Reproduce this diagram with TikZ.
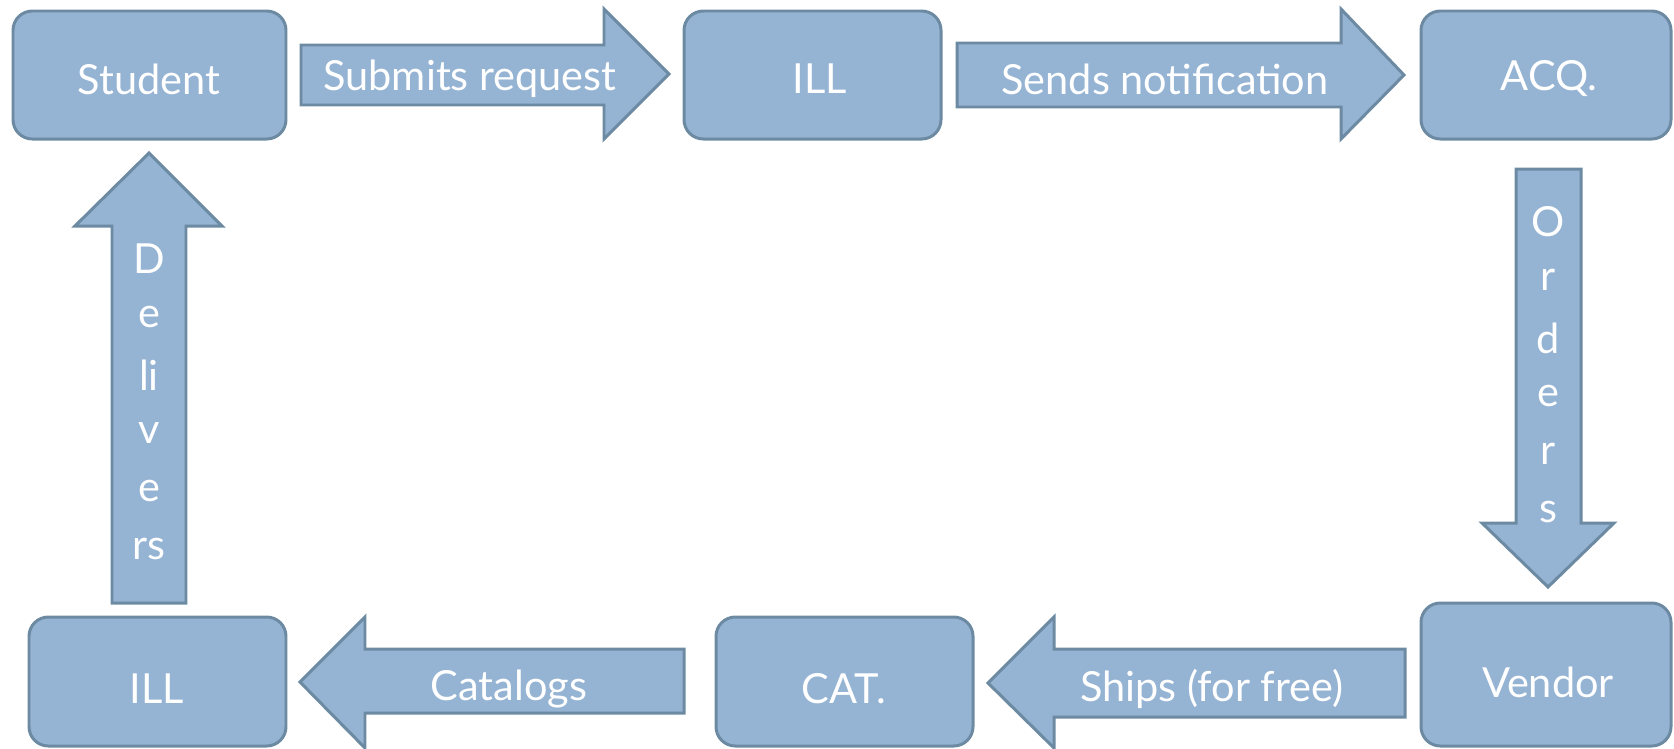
\documentclass[tikz,border=0pt]{standalone}
\usepackage{fontspec}
\setmainfont{Lato}
\definecolor{boxfill}{HTML}{95B3D3}
\definecolor{boxline}{HTML}{6C8AA2}
\begin{document}
\begin{tikzpicture}[x=0.02cm,y=-0.02cm,
  block/.style={draw=boxline,fill=boxfill,line width=1.7pt,rounded corners=11pt},
  barrow/.style={draw=boxline,fill=boxfill,line width=1.7pt,line join=miter},
  lbl/.style={text=white,font=\fontsize{23.6}{27}\selectfont,inner sep=0pt}]
\useasboundingbox (0,0) rectangle (1674,748);
% boxes
\draw[block] (13,11) rectangle (286,139);
\draw[block] (684,11) rectangle (941,139);
\draw[block] (1421,11) rectangle (1671,139);
\draw[block] (1421,603) rectangle (1671,746);
\draw[block] (716,617) rectangle (973,746);
\draw[block] (29,617) rectangle (286,746);
\node[lbl] (student) at (149,79) {Student};
\node[lbl] (ill1) at (820,79) {ILL};
\node[lbl] (acq) at (1549,79) {ACQ.};
\node[lbl] (vendor) at (1548,682) {Vendor};
\node[lbl] (cat) at (844,689) {CAT.};
\node[lbl] (ill2) at (157,689) {ILL};
% arrows
\draw[barrow] (301,45) -- (604,45) -- (604,9) -- (669,74) -- (604,139) -- (604,105) -- (301,105) -- cycle;
\draw[barrow] (957,43) -- (1341,43) -- (1341,9) -- (1404,75) -- (1341,139) -- (1341,107) -- (957,107) -- cycle;
\draw[barrow] (1516,169) -- (1581,169) -- (1581,523) -- (1614,523) -- (1548,587) -- (1482,523) -- (1516,523) -- cycle;
\draw[barrow] (1405,649) -- (1054,649) -- (1054,617) -- (988,683) -- (1054,748) -- (1054,717) -- (1405,717) -- cycle;
\draw[barrow] (684,649) -- (365,649) -- (365,617) -- (300,682) -- (365,748) -- (365,713) -- (684,713) -- cycle;
\draw[barrow] (112,603) -- (112,226) -- (75,226) -- (149,153) -- (222,226) -- (186,226) -- (186,603) -- cycle;
\node[lbl] (submits) at (470,79) {Submits request};
\node[lbl] (sends) at (1165,79) {Sends notification};
\node[lbl] (ships) at (1212,689) {Ships (for free)};
\node[lbl] (catalogs) at (509,689) {Catalogs};
\foreach \t/\yy [count=\i] in {O/222,r/280,d/338,e/396,r/454,s/512}
  \node[lbl] (ord\i) at (1548,\yy) {\t};
\foreach \t/\yy [count=\i] in {D/259,e/317,li/375,v/433,e/491,rs/549}
  \node[lbl] (del\i) at (149,\yy) {\t};
\end{tikzpicture}
\end{document}
